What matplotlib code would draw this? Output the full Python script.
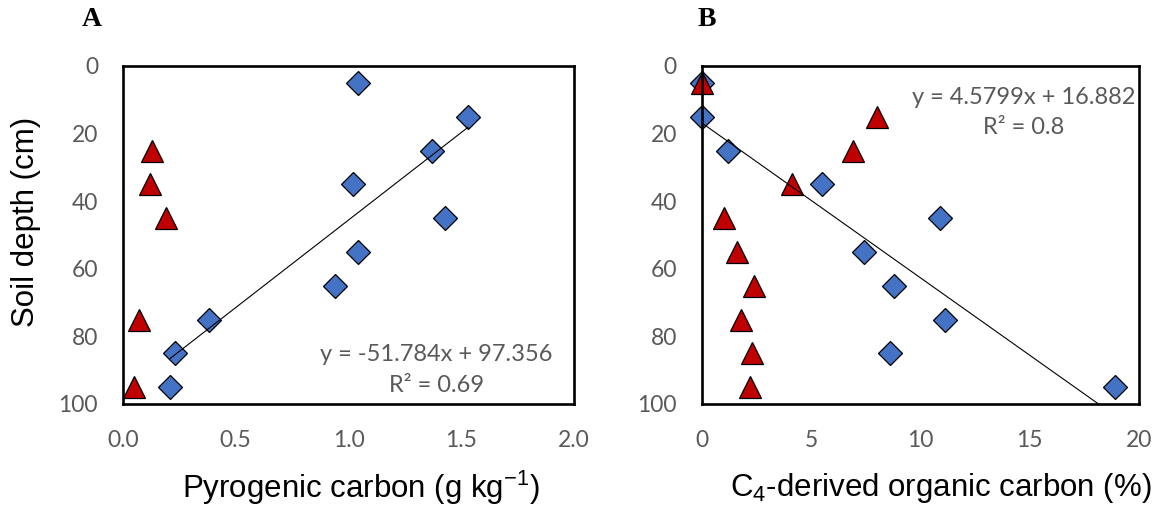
import matplotlib
matplotlib.use("Agg")
import matplotlib.pyplot as plt
import numpy as np

# ---- data ----
depth = [5, 15, 25, 35, 45, 55, 65, 75, 85, 95]

pyc_blue = [1.04, 1.53, 1.37, 1.02, 1.43, 1.04, 0.94, 0.38, 0.23, 0.21]
pyc_red_depth = [25, 35, 45, 75, 95]
pyc_red = [0.13, 0.12, 0.19, 0.07, 0.05]

c4_blue = [0.0, 0.0, 1.2, 5.5, 10.9, 7.4, 8.8, 11.1, 8.6, 18.9]
c4_red = [0.0, 8.0, 6.9, 4.1, 1.0, 1.6, 2.4, 1.8, 2.3, 2.2]

fit_a = (-51.784, 97.356)
fit_b = (4.5799, 16.882)
eq_a = ["y = -51.784x + 97.356", "R² = 0.69"]
eq_b = ["y = 4.5799x + 16.882", "R² = 0.8"]

xticks_a = [0.0, 0.5, 1.0, 1.5, 2.0]
xticklabels_a = ["0.0", "0.5", "1.0", "1.5", "2.0"]
xticks_b = [0, 5, 10, 15, 20]
yticks = [0, 20, 40, 60, 80, 100]

BLUE = "#4472C4"
RED = "#C00000"
GRAY = "#595959"
TICKFONT = "Lato"
LABFONT = "Liberation Sans"

W, H = 1161, 514
fig = plt.figure(figsize=(W / 100, H / 100), dpi=100)

def px_ax(l, t, r, b):
    return [l / W, 1 - b / H, (r - l) / W, (b - t) / H]

ax_a = fig.add_axes(px_ax(123, 66, 574, 404))
ax_b = fig.add_axes(px_ax(702, 66, 1139, 404))

def style(ax, xlim, xticks, xticklabels):
    ax.set_xlim(*xlim)
    ax.set_ylim(100, 0)
    ax.set_xticks(xticks)
    ax.set_xticklabels(xticklabels)
    ax.set_yticks(yticks)
    ax.set_yticklabels([str(v) for v in yticks])
    ax.tick_params(length=0, labelsize=16.5, labelcolor=GRAY)
    ax.tick_params(axis="x", pad=19)
    ax.tick_params(axis="y", pad=18)
    for lab in ax.get_xticklabels() + ax.get_yticklabels():
        lab.set_fontfamily(TICKFONT)
    for s in ax.spines.values():
        s.set_linewidth(1.9)
        s.set_color("black")
        s.set_zorder(6)

MS_D = 12
MS_T = 15.5

# Panel A
style(ax_a, (0, 2.0), xticks_a, xticklabels_a)
ax_a.plot(pyc_blue, depth, linestyle="none", marker="D", markersize=MS_D,
          markerfacecolor=BLUE, markeredgecolor="black", markeredgewidth=0.9, zorder=3, clip_on=False)
ax_a.plot(pyc_red, pyc_red_depth, linestyle="none", marker="^", markersize=MS_T,
          markerfacecolor=RED, markeredgecolor="black", markeredgewidth=0.9, zorder=4, clip_on=False)
xa = np.array([min(pyc_blue), max(pyc_blue)])
ax_a.plot(xa, fit_a[0] * xa + fit_a[1], color="black", lw=0.8, zorder=5)
ax_a.text(1.39, 85.5, eq_a[0], ha="center", va="center", fontsize=17, color=GRAY, family=TICKFONT)
ax_a.text(1.39, 94.4, eq_a[1], ha="center", va="center", fontsize=17, color=GRAY, family=TICKFONT)

# Panel B
style(ax_b, (0, 20), xticks_b, [str(v) for v in xticks_b])
ax_b.plot(c4_blue, depth, linestyle="none", marker="D", markersize=MS_D,
          markerfacecolor=BLUE, markeredgecolor="black", markeredgewidth=0.9, zorder=3, clip_on=False)
ax_b.plot(c4_red, depth, linestyle="none", marker="^", markersize=MS_T,
          markerfacecolor=RED, markeredgecolor="black", markeredgewidth=0.9, zorder=4, clip_on=False)
xb = np.array([min(c4_blue), max(c4_blue)])
ax_b.plot(xb, fit_b[0] * xb + fit_b[1], color="black", lw=0.8, zorder=5)
ax_b.text(14.7, 9.2, eq_b[0], ha="center", va="center", fontsize=17, color=GRAY, family=TICKFONT)
ax_b.text(14.7, 18.3, eq_b[1], ha="center", va="center", fontsize=17, color=GRAY, family=TICKFONT)

# Labels
def ftext(x, y, s, **kw):
    fig.text(x / W, 1 - y / H, s, **kw)

ftext(92, 20, "A", ha="center", va="center", fontsize=20, fontweight="bold", family="Liberation Serif")
ftext(707, 20, "B", ha="center", va="center", fontsize=20, fontweight="bold", family="Liberation Serif")
ftext(26, 222, "Soil depth (cm)", ha="center", va="center", rotation=90, fontsize=22.5, family=LABFONT)
ftext(361, 488, r"Pyrogenic carbon (g kg$^{\mathregular{-1}}$)", ha="center", va="center", fontsize=22.5, family=LABFONT)
ftext(941, 488, r"C$_{\mathregular{4}}$-derived organic carbon (%)", ha="center", va="center", fontsize=22.5, family=LABFONT)

fig.savefig("out.png", dpi=100)
